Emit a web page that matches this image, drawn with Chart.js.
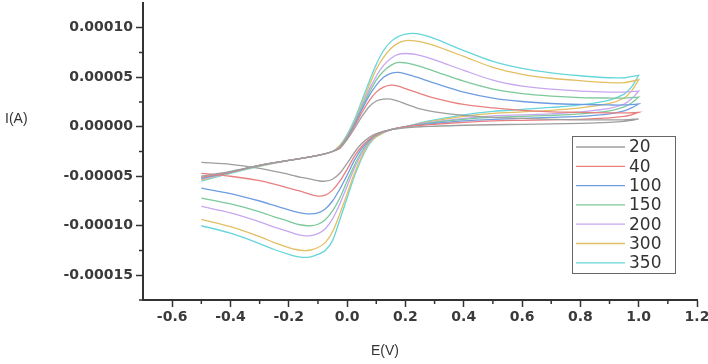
<!DOCTYPE html>
<html>
<head>
<meta charset="utf-8">
<script src="https://cdn.jsdelivr.net/npm/chart.js@4"></script>
<style>
  html, body { margin: 0; padding: 0; background: #fff; }
  #wrap { width: 708px; height: 364px; }
</style>
</head>
<body>
<div id="wrap"><canvas id="cv"></canvas></div>
<script>
// scan rates (legend labels)
const scanRates = ['20', '40', '100', '150', '200', '300', '350'];
const lineColors = ['#9e9e9e', '#e98080', '#6f9de2', '#7cc99c', '#c7a7f0', '#e2bf62', '#66d6da'];

// potentials (V), forward sweep then reverse sweep
const eForward = [-0.5, -0.4, -0.3, -0.2, -0.1, -0.05, -0.025, 0, 0.025, 0.05, 0.075, 0.1, 0.125, 0.15, 0.175, 0.2, 0.225, 0.25, 0.3, 0.4, 0.5, 0.6, 0.7, 0.8, 0.9, 0.95, 1.0];
const eReverse = [1.0, 0.975, 0.95, 0.9, 0.8, 0.7, 0.6, 0.5, 0.4, 0.3, 0.25, 0.2, 0.15, 0.1, 0.075, 0.05, 0.025, 0, -0.025, -0.05, -0.075, -0.1, -0.125, -0.15, -0.175, -0.2, -0.25, -0.3, -0.4, -0.5];

// currents in microamps
const fwd20  = [-50, -45, -39, -34, -29, -25, -22, -13, -2, 10, 20, 26, 28, 28, 26, 23, 20.5, 18, 15, 11.5, 9.5, 8.5, 7.5, 7, 7, 7, 8];
const fwd40  = [-51, -45.5, -39, -34, -29, -25, -21, -12, 0, 14, 26, 35, 40, 42, 41, 38.5, 36, 33.5, 29, 22.5, 19, 16.5, 15, 14.5, 14, 14, 14.5];
const fwd100 = [-52, -46, -39, -34, -29, -25, -21, -11, 2, 17, 31, 42, 50, 54, 55, 53.5, 51.5, 49, 44, 35, 29, 25.5, 23.5, 22.5, 22, 22, 23];
const fwd150 = [-52, -46, -39, -34, -29, -25, -20, -10, 3, 19, 34, 47, 56, 62, 65, 64.5, 63, 61, 56, 46, 38, 33.5, 31, 29.5, 29, 29, 30];
const fwd200 = [-53, -46, -39, -34, -29, -25, -20, -10, 4, 21, 37, 51, 62, 69, 73, 74, 73.5, 72, 67.5, 57, 47, 41, 38, 36, 35, 35, 36];
const fwd300 = [-54, -46.5, -39.5, -34, -29, -25, -19, -9, 5, 23, 41, 58, 70, 79, 84.5, 87, 87, 86, 82, 71, 60, 53, 49, 46.5, 44.5, 44.5, 47.5];
const fwd350 = [-55, -47, -40, -34, -29, -25, -19, -8, 7, 26, 45, 63, 77, 86, 91, 93.5, 94.3, 93.5, 89, 77, 66, 59, 54.5, 51.5, 49.5, 49.5, 52];

const rev20  = [8, 6.5, 5.5, 4.5, 3.5, 3, 2.5, 2, 1.5, 0.5, 0, -1, -3, -7, -11, -17, -26, -37, -47, -53, -55, -54.5, -53, -51.5, -50, -48, -45, -42, -38, -36];
const rev40  = [14.5, 12, 10.5, 9, 7.5, 7, 6.5, 6, 4.5, 2.5, 1.5, 0, -3, -8, -13, -20, -30, -43, -55, -64, -69, -70, -68.5, -66, -64, -62, -58, -54.5, -50, -47];
const rev100 = [23, 19, 16, 13, 10.5, 9.5, 8.5, 7.5, 6, 3.5, 2, 0, -3, -8, -14, -22, -34, -49, -63, -75, -83, -87, -88, -87.5, -86, -84, -79.5, -75, -67.5, -62];
const rev150 = [30, 24, 20, 16, 13, 11.5, 10.5, 9.5, 7.5, 4.5, 2.5, 0, -3, -9, -15, -25, -39, -55, -72, -85, -94, -98.5, -100, -99.5, -98, -95.5, -91, -86, -78, -72];
const rev200 = [36, 28, 23, 18.5, 15, 13, 12, 11, 8.5, 5, 3, 0, -3, -9, -16, -27, -42, -60, -78, -93, -103, -108, -110, -110, -108.5, -106, -101.5, -96, -87, -80.5];
const rev300 = [47.5, 36, 29, 23.5, 19, 16.5, 15, 13.5, 10.5, 6, 3.5, 0, -3, -10, -17, -30, -47, -68, -88, -106, -117, -122, -124.5, -125, -124, -122, -117, -111, -101, -93.5];
const rev350 = [52, 40, 33, 27, 22, 19.5, 17.5, 15.5, 12, 7, 4, 0, -3, -10, -18, -32, -50, -72, -94, -115, -125, -129, -131.5, -132, -131, -129, -124, -118, -107.5, -100];

const forwardSets = [fwd20, fwd40, fwd100, fwd150, fwd200, fwd300, fwd350];
const reverseSets = [rev20, rev40, rev100, rev150, rev200, rev300, rev350];

// axis ticks
const xTicks = [-0.6, -0.4, -0.2, 0, 0.2, 0.4, 0.6, 0.8, 1.0, 1.2];
const xMinor = [-0.5, -0.3, -0.1, 0.1, 0.3, 0.5, 0.7, 0.9, 1.1];
const yTicks = [-0.00015, -0.0001, -0.00005, 0, 0.00005, 0.0001];
const yMinor = [-0.000175, -0.000125, -0.000075, -0.000025, 0.000025, 0.000075];

const tickFont = { family: 'DejaVu Sans', size: 14, weight: 'bold' };
const axisColor = '#333';

const datasets = scanRates.map((label, i) => ({
  label: label,
  data: eForward.map((e, j) => ({ x: e, y: forwardSets[i][j] * 1e-6 }))
    .concat(eReverse.map((e, j) => ({ x: e, y: reverseSets[i][j] * 1e-6 }))),
  borderColor: lineColors[i],
  borderWidth: 1.3,
  pointRadius: 0,
  tension: 0.3,
  fill: false
}));

// minor ticks, axis titles and the boxed legend
const extrasPlugin = {
  id: 'extras',
  afterDraw(chart) {
    const ctx = chart.ctx;
    const xs = chart.scales.x, ys = chart.scales.y;
    const area = chart.chartArea;
    ctx.save();
    ctx.strokeStyle = axisColor;
    ctx.lineWidth = 1.5;
    yMinor.forEach(v => {
      const p = ys.getPixelForValue(v);
      ctx.beginPath(); ctx.moveTo(area.left - 4, p); ctx.lineTo(area.left, p); ctx.stroke();
    });
    xMinor.forEach(v => {
      const p = xs.getPixelForValue(v);
      ctx.beginPath(); ctx.moveTo(p, area.bottom); ctx.lineTo(p, area.bottom + 4); ctx.stroke();
    });

    // axis titles
    ctx.fillStyle = '#333';
    ctx.font = '14px "Liberation Sans"';
    ctx.textBaseline = 'middle';
    ctx.textAlign = 'left';
    ctx.fillText('I(A)', 5, 119);
    ctx.textAlign = 'center';
    ctx.fillText('E(V)', 385, 351);

    // legend
    ctx.strokeStyle = '#666';
    ctx.lineWidth = 1;
    ctx.strokeRect(572.5, 136.5, 103, 137);
    ctx.font = '17px "DejaVu Sans"';
    ctx.textAlign = 'left';
    chart.data.datasets.forEach((ds, i) => {
      const y = 147 + i * 19.3;
      ctx.strokeStyle = ds.borderColor;
      ctx.lineWidth = 1.3;
      ctx.beginPath(); ctx.moveTo(576, y); ctx.lineTo(625, y); ctx.stroke();
      ctx.fillStyle = '#333';
      ctx.fillText(ds.label, 629, y + 1);
    });
    ctx.restore();
  }
};

new Chart(document.getElementById('cv').getContext('2d'), {
  type: 'line',
  data: { datasets: datasets },
  options: {
    responsive: true,
    maintainAspectRatio: false,
    animation: false,
    layout: { padding: { left: 0, right: 11, top: 3, bottom: 0 } },
    plugins: { legend: { display: false }, tooltip: { enabled: false } },
    scales: {
      x: {
        type: 'linear',
        min: -0.7,
        max: 1.2,
        afterBuildTicks: s => { s.ticks = xTicks.map(v => ({ value: v })); },
        afterFit: s => { s.height = 64; s.paddingLeft = 0; s.paddingRight = 0; },
        border: { color: axisColor, width: 2 },
        grid: { drawOnChartArea: false, tickLength: 7, color: axisColor, tickWidth: 1.5 },
        ticks: {
          color: '#3a3a3a', font: tickFont, padding: 2, maxRotation: 0,
          callback: v => v.toFixed(1)
        }
      },
      y: {
        min: -0.000175,
        max: 0.000125,
        afterBuildTicks: s => { s.ticks = yTicks.map(v => ({ value: v })); },
        afterFit: s => { s.width = 143; s.paddingTop = 0; s.paddingBottom = 0; },
        border: { color: axisColor, width: 2 },
        grid: { drawOnChartArea: false, tickLength: 7, color: axisColor, tickWidth: 1.5 },
        ticks: {
          color: '#3a3a3a', font: tickFont, padding: 3,
          callback: v => (Math.abs(v) < 1e-12 ? 0 : v).toFixed(5)
        }
      }
    }
  },
  plugins: [extrasPlugin]
});
</script>
</body>
</html>
